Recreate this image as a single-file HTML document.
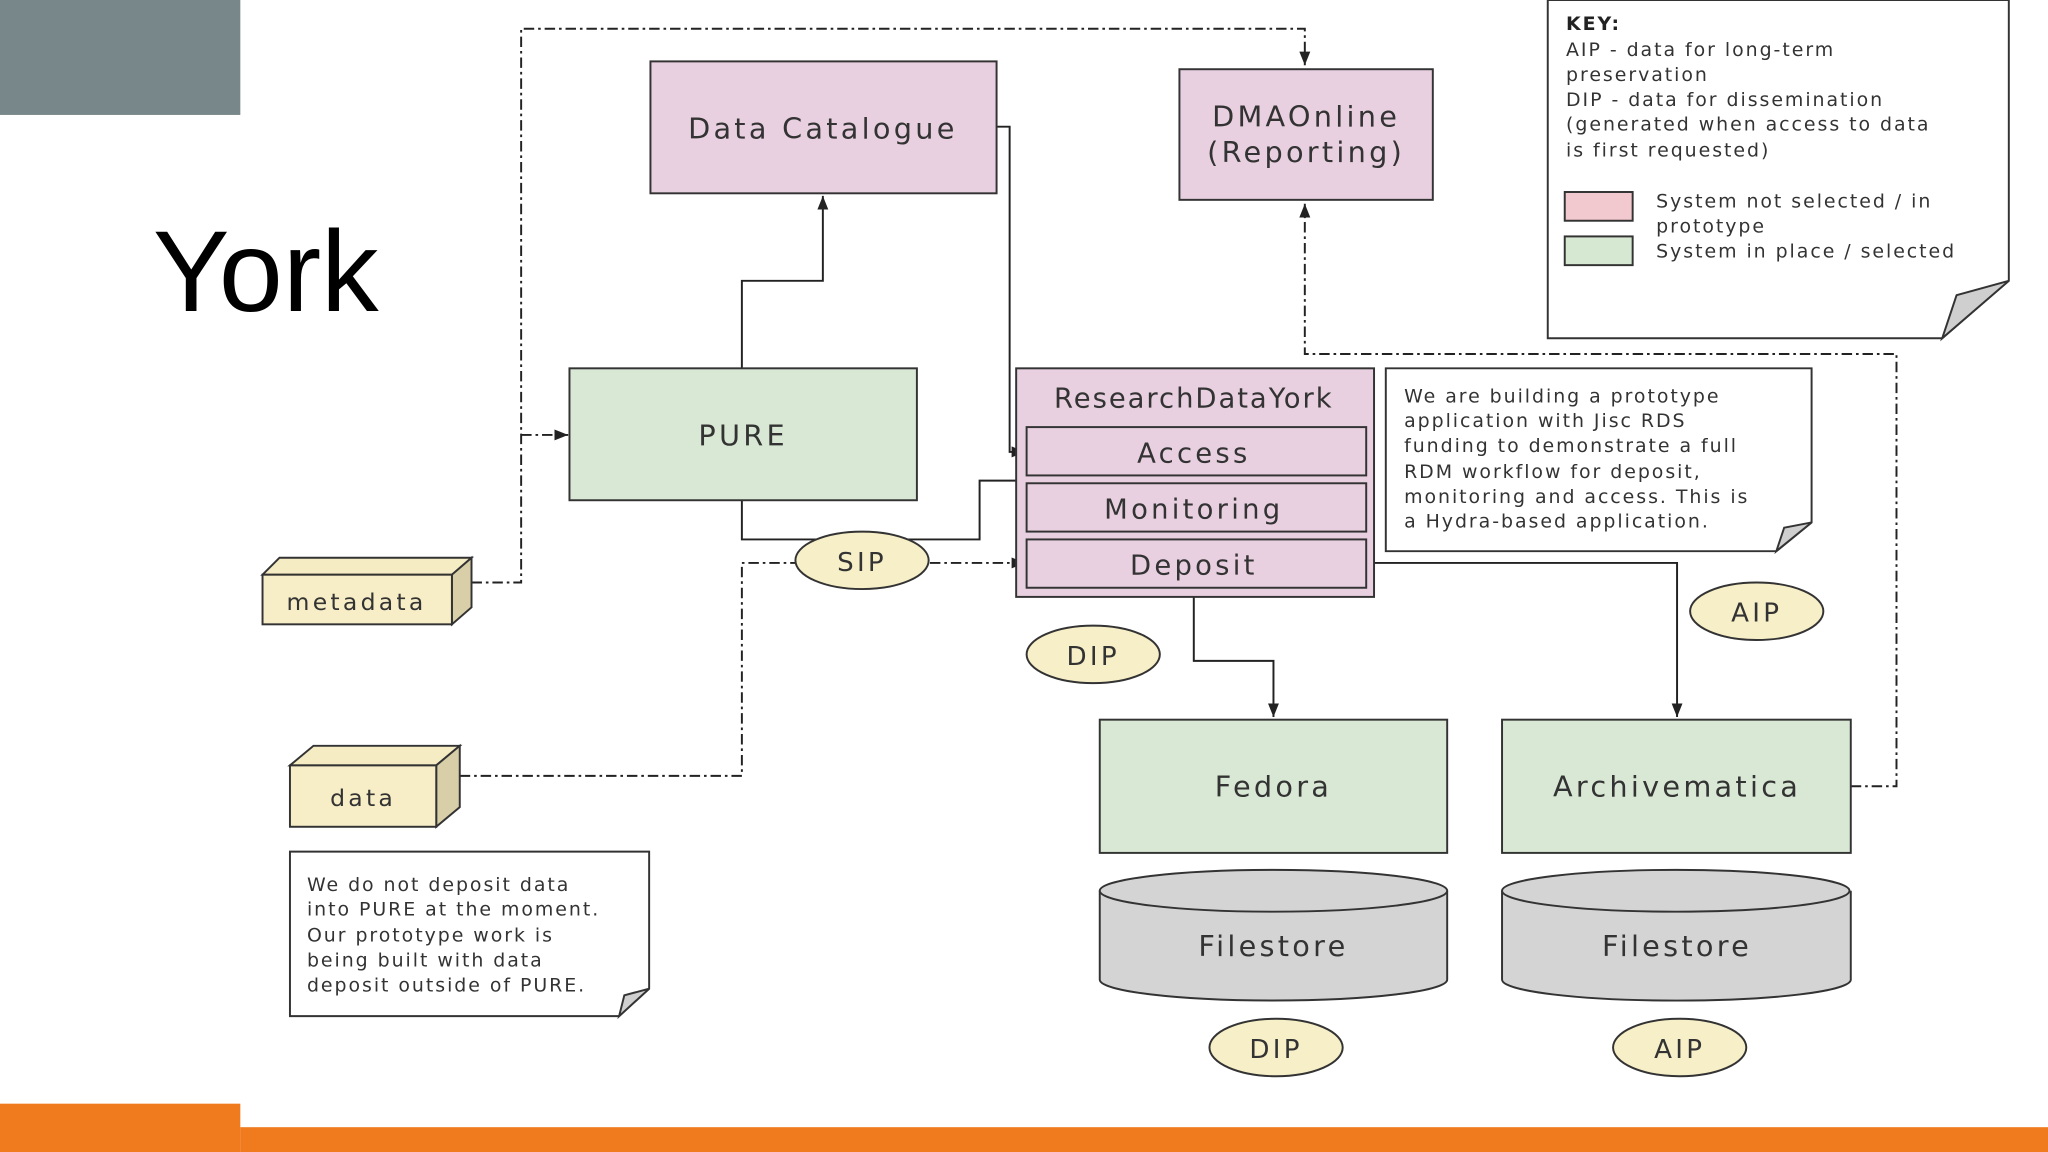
<!DOCTYPE html>
<html><head><meta charset="utf-8"><style>
html,body{margin:0;padding:0;background:#fff;}
svg{display:block;}
text{font-family:"DejaVu Sans","Liberation Sans",sans-serif;fill:#333;}
</style></head><body>
<svg width="2048" height="1152" viewBox="0 0 1568 882" xmlns="http://www.w3.org/2000/svg">
<defs>
<marker id="a" viewBox="0 0 10 10" refX="10" refY="5" markerWidth="7" markerHeight="7" orient="auto"><path d="M0,1 L10,5 L0,9 z" fill="#222"/></marker>
</defs>
<rect width="1568" height="882" fill="#fff"/>
<rect x="0" y="0" width="184" height="88" fill="#788789"/>
<rect x="0" y="845" width="184" height="37" fill="#f07a1e"/>
<rect x="184" y="863" width="1384" height="19" fill="#f07a1e"/>
<text x="117" y="238" style="font-family:'Liberation Sans',sans-serif;fill:#000" font-size="88">York</text>

<g fill="none" stroke="#222" stroke-width="1.5">
<path d="M568,282 V215 H630 V150" marker-end="url(#a)"/>
<path d="M763,97 H773 V346 H785" marker-end="url(#a)"/>
<path d="M568,383 V413 H750 V368 H795" marker-end="url(#a)"/>
<path d="M914,457 V506 H975 V549" marker-end="url(#a)"/>
<path d="M1046,431 H1284 V549" marker-end="url(#a)"/>
<g stroke-dasharray="8,3,2,3">
<path d="M361,446 H399 V22 H999 V50" marker-end="url(#a)"/>
<path d="M399,333 H435" marker-end="url(#a)"/>
<path d="M352,594 H568 V431 H610"/>
<path d="M712,431 H785" marker-end="url(#a)"/>
<path d="M1417,602 H1452 V271 H999 V156" marker-end="url(#a)"/>
</g>
</g>

<g stroke="#333" stroke-width="1.5">
<rect x="498" y="47" width="265" height="101" fill="#e8d0e0"/>
<rect x="903" y="53" width="194" height="100" fill="#e8d0e0"/>
<rect x="436" y="282" width="266" height="101" fill="#d9e8d5"/>
<rect x="778" y="282" width="274" height="175" fill="#e8d0e0"/>
<rect x="786" y="327" width="260" height="37" fill="#e8d0e0"/>
<rect x="786" y="370" width="260" height="37" fill="#e8d0e0"/>
<rect x="786" y="413" width="260" height="37" fill="#e8d0e0"/>
<rect x="842" y="551" width="266" height="102" fill="#d9e8d5"/>
<rect x="1150" y="551" width="267" height="102" fill="#d9e8d5"/>
<path d="M842,682 V750 A133,16 0 0 0 1108,750 V682" fill="#d4d4d4"/>
<ellipse cx="975" cy="682" rx="133" ry="16" fill="#d4d4d4"/>
<path d="M1150,682 V750 A133,16 0 0 0 1417,750 V682" fill="#d4d4d4"/>
<ellipse cx="1283" cy="682" rx="133" ry="16" fill="#d4d4d4"/>
<ellipse cx="660" cy="429" rx="51" ry="22" fill="#f7efc8"/>
<ellipse cx="837" cy="501" rx="51" ry="22" fill="#f7efc8"/>
<ellipse cx="1345" cy="468" rx="51" ry="22" fill="#f7efc8"/>
<ellipse cx="977" cy="802" rx="51" ry="22" fill="#f7efc8"/>
<ellipse cx="1286" cy="802" rx="51" ry="22" fill="#f7efc8"/>
<path d="M201,440 L214,427 H361 L346,440 z" fill="#f5ecc4"/>
<path d="M346,440 L361,427 V465 L346,478 z" fill="#d8cfa8"/>
<rect x="201" y="440" width="145" height="38" fill="#f7edc6"/>
<path d="M222,586 L240,571 H352 L334,586 z" fill="#f5ecc4"/>
<path d="M334,586 L352,571 V618 L334,633 z" fill="#d8cfa8"/>
<rect x="222" y="586" width="112" height="47" fill="#f7edc6"/>
<path d="M1185,0 H1538 V215 L1487,259 H1185 z" fill="#fff"/>
<path d="M1538,215 L1498,226 L1487,259 z" fill="#cfcfcf"/>
<path d="M1061,282 H1387 V400 L1360,422 H1061 z" fill="#fff"/>
<path d="M1387,400 L1366,404 L1360,422 z" fill="#cfcfcf"/>
<path d="M222,652 H497 V757 L474,778 H222 z" fill="#fff"/>
<path d="M497,757 L478,762 L474,778 z" fill="#cfcfcf"/>
<rect x="1198" y="147" width="52" height="22" fill="#f1c9cf"/>
<rect x="1198" y="181" width="52" height="22" fill="#d6e7d2"/>
</g>

<g font-size="22" text-anchor="middle" letter-spacing="2.5">
<text x="630" y="106">Data Catalogue</text>
<text x="1000" y="97">DMAOnline</text>
<text x="1000" y="124">(Reporting)</text>
<text x="569" y="341">PURE</text>
<text x="914" y="312" font-size="21" letter-spacing="1.5">ResearchDataYork</text>
<text x="914" y="354" font-size="21">Access</text>
<text x="914" y="397" font-size="21">Monitoring</text>
<text x="914" y="440" font-size="21">Deposit</text>
<text x="975" y="610">Fedora</text>
<text x="1284" y="610">Archivematica</text>
<text x="975" y="732">Filestore</text>
<text x="1284" y="732">Filestore</text>
<text x="660" y="437" font-size="20">SIP</text>
<text x="837" y="509" font-size="20">DIP</text>
<text x="1345" y="476" font-size="20">AIP</text>
<text x="977" y="810" font-size="20">DIP</text>
<text x="1286" y="810" font-size="20">AIP</text>
<text x="273" y="467" font-size="18">metadata</text>
<text x="278" y="617" font-size="18">data</text>
</g>
<g font-size="14.5" letter-spacing="1.5" style="fill:#444">
<text x="1199" y="23" style="fill:#222;font-weight:bold">KEY:</text>
<text x="1199" y="43">AIP - data for long-term</text>
<text x="1199" y="62">preservation</text>
<text x="1199" y="81">DIP - data for dissemination</text>
<text x="1199" y="100">(generated when access to data</text>
<text x="1199" y="120">is first requested)</text>
<text x="1268" y="159">System not selected / in</text>
<text x="1268" y="178">prototype</text>
<text x="1268" y="197">System in place / selected</text>
<text x="1075" y="308">We are building a prototype</text>
<text x="1075" y="327">application with Jisc RDS</text>
<text x="1075" y="346">funding to demonstrate a full</text>
<text x="1075" y="366">RDM workflow for deposit,</text>
<text x="1075" y="385">monitoring and access. This is</text>
<text x="1075" y="404">a Hydra-based application.</text>
<text x="235" y="682">We do not deposit data</text>
<text x="235" y="701">into PURE at the moment.</text>
<text x="235" y="721">Our prototype work is</text>
<text x="235" y="740">being built with data</text>
<text x="235" y="759">deposit outside of PURE.</text>
</g>
</svg>
</body></html>
